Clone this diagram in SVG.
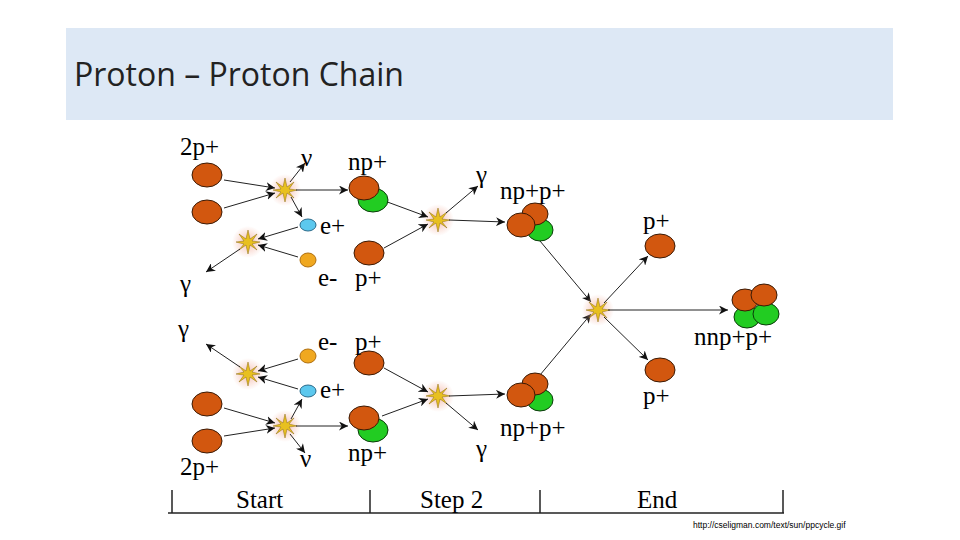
<svg xmlns="http://www.w3.org/2000/svg" xmlns:xlink="http://www.w3.org/1999/xlink" width="960" height="540" viewBox="0 0 960 540">
<style>
.lb{font-family:"Liberation Serif",serif;font-size:25px;fill:#000}
.tl{font-family:"Liberation Serif",serif;font-size:25px;fill:#000}
.p{fill:#d2570f;stroke:#3a1a05;stroke-width:1}
.n{fill:#22cc22;stroke:#0a3a0a;stroke-width:1}
.ar{stroke:#222;stroke-width:1;fill:none;marker-end:url(#ah)}
</style>
<defs>
<marker id="ah" viewBox="0 0 10 10" refX="10" refY="5" markerWidth="9" markerHeight="9" orient="auto" markerUnits="userSpaceOnUse"><path d="M0,0 L10,5 L0,10 L3,5 z" fill="#111"/></marker>
<radialGradient id="glow"><stop offset="0" stop-color="#f4b8a8" stop-opacity="0.9"/><stop offset="1" stop-color="#f4b8a8" stop-opacity="0"/></radialGradient>
<g id="star"><circle r="16" fill="url(#glow)"/><polygon points="0,-12 2,-3 9,-8 4,-1 12,0 4,2 9,8 2,3 0,12 -2,3 -9,8 -4,2 -12,0 -4,-1 -9,-8 -2,-3" fill="#e8c020" stroke="#8a6a10" stroke-width="0.5"/></g>
<g id="half">
<ellipse class="p" cx="207" cy="175" rx="15" ry="12"/>
<ellipse class="p" cx="207" cy="212" rx="15" ry="12"/>
<use xlink:href="#star" x="285" y="190"/>
<use xlink:href="#star" x="248" y="242"/>
<use xlink:href="#star" x="438" y="220"/>
<ellipse cx="308" cy="225" rx="8" ry="6" fill="#5cc8ee" stroke="#2a6a8a"/>
<ellipse cx="308" cy="260" rx="8" ry="7" fill="#f0a820" stroke="#b07010"/>
<ellipse class="p" cx="369" cy="253" rx="15" ry="12"/>
<g id="conn">
<line class="ar" x1="224" y1="180" x2="275" y2="188"/>
<line class="ar" x1="224" y1="208" x2="275" y2="193"/>
<line class="ar" x1="290" y1="182" x2="305" y2="163"/>
<line class="ar" x1="296" y1="190" x2="348" y2="190"/>
<line class="ar" x1="291" y1="197" x2="302" y2="217"/>
<line class="ar" x1="298" y1="227" x2="258" y2="239"/>
<line class="ar" x1="298" y1="257" x2="258" y2="245"/>
<line class="ar" x1="240" y1="249" x2="206" y2="272"/>
<line class="ar" x1="382" y1="200" x2="428" y2="217"/>
<line class="ar" x1="384" y1="248" x2="428" y2="224"/>
<line class="ar" x1="446" y1="213" x2="478" y2="186"/>
<line class="ar" x1="449" y1="220" x2="505" y2="222"/>
<line class="ar" x1="540" y1="241" x2="591" y2="302"/>
</g>
</g>
<g id="np">
<ellipse class="n" cx="373" cy="200" rx="15" ry="12"/>
<ellipse class="p" cx="364" cy="188" rx="15" ry="12"/>
</g>
<g id="npp">
<ellipse class="n" cx="540" cy="230" rx="13" ry="11"/>
<ellipse class="p" cx="535" cy="214" rx="13" ry="11"/>
<ellipse class="p" cx="521" cy="225" rx="14" ry="12"/>
</g>
</defs>
<rect x="66" y="28" width="827" height="92" fill="#dde8f5"/>
<text x="74" y="86" font-family="'Open Sans','Noto Sans',sans-serif" font-size="32" fill="#222">Proton – Proton Chain</text>
<g id="top"><use xlink:href="#half"/><use xlink:href="#np"/><use xlink:href="#npp"/></g>
<g id="bottom"><use xlink:href="#half" transform="translate(0,616) scale(1,-1)"/><use xlink:href="#np" x="0" y="230"/><use xlink:href="#npp" x="0" y="170"/></g>
<g id="end">
<use xlink:href="#star" x="598" y="310"/>
<ellipse class="p" cx="660" cy="246" rx="15" ry="12"/>
<ellipse class="p" cx="660" cy="370" rx="15" ry="12"/>
<ellipse class="n" cx="747" cy="317" rx="13" ry="11"/>
<ellipse class="n" cx="766" cy="314" rx="13" ry="11"/>
<ellipse class="p" cx="745" cy="300" rx="13" ry="11"/>
<ellipse class="p" cx="764" cy="295" rx="13" ry="11"/>
</g>
<g id="connectors">
<line class="ar" x1="604" y1="303" x2="648" y2="256"/>
<line class="ar" x1="608" y1="310" x2="728" y2="310"/>
<line class="ar" x1="604" y1="317" x2="648" y2="360"/>
</g>
<g id="labels">
<text class="lb" x="180" y="155">2p+</text>
<text class="lb" x="301" y="166">ν</text>
<text class="lb" x="348" y="170">np+</text>
<text class="lb" x="320" y="234">e+</text>
<text class="lb" x="180" y="292">γ</text>
<text class="lb" x="318" y="286">e-</text>
<text class="lb" x="355" y="286">p+</text>
<text class="lb" x="476" y="183">γ</text>
<text class="lb" x="500" y="199">np+p+</text>
<text class="lb" x="643" y="229">p+</text>
<text class="lb" x="694" y="345">nnp+p+</text>
<text class="lb" x="643" y="404">p+</text>
<text class="lb" x="178" y="337">γ</text>
<text class="lb" x="318" y="350">e-</text>
<text class="lb" x="355" y="350">p+</text>
<text class="lb" x="320" y="398">e+</text>
<text class="lb" x="500" y="436">np+p+</text>
<text class="lb" x="476" y="457">γ</text>
<text class="lb" x="348" y="461">np+</text>
<text class="lb" x="300" y="467">ν</text>
<text class="lb" x="180" y="475">2p+</text>
</g>
<g id="timeline" stroke="#222" stroke-width="1.5">
<line x1="168" y1="513" x2="784" y2="513"/>
<line x1="172" y1="490" x2="172" y2="513"/>
<line x1="370" y1="490" x2="370" y2="513"/>
<line x1="540" y1="490" x2="540" y2="513"/>
<line x1="783" y1="490" x2="783" y2="513"/>
</g>
<text class="tl" x="236" y="508">Start</text>
<text class="tl" x="420" y="508">Step 2</text>
<text class="tl" x="637" y="508">End</text>
<text x="693" y="528" font-family="'Liberation Sans',sans-serif" font-size="8.5" fill="#000">http://cseligman.com/text/sun/ppcycle.gif</text>
</svg>
